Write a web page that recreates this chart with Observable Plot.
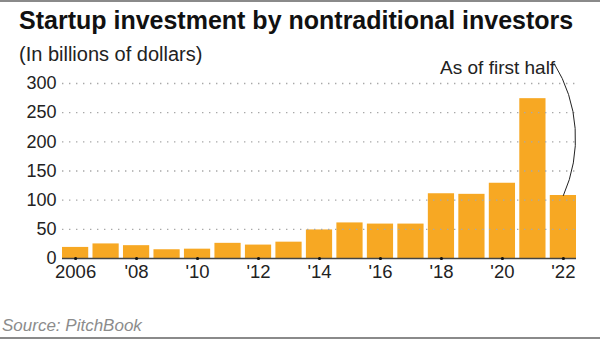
<!DOCTYPE html>
<html>
<head>
<meta charset="utf-8">
<script src="https://cdn.jsdelivr.net/npm/d3@7"></script>
<script src="https://cdn.jsdelivr.net/npm/@observablehq/plot@0.6"></script>
<style>
  html, body { margin: 0; padding: 0; background: #fff; }
  #wrap { position: relative; width: 600px; height: 339px; overflow: hidden; font-family: "Liberation Sans", Arial, sans-serif; }
  .topline { position: absolute; left: 0; top: 0; width: 600px; height: 2px; background: #8a8a8a; }
  .botline { position: absolute; left: 0; top: 337px; width: 600px; height: 2px; background: #8a8a8a; }
  #title { position: absolute; left: 19px; top: 6px; font-size: 25px; font-weight: bold; color: #111; white-space: nowrap; }
  #subtitle { position: absolute; left: 19px; top: 43px; font-size: 20px; color: #222; white-space: nowrap; }
  #chart { position: absolute; left: 0; top: 58px; }
  #source { position: absolute; left: 2px; top: 316px; font-size: 17px; font-style: italic; color: #8c8c8c; white-space: nowrap; }
</style>
</head>
<body>
<div id="wrap">
  <div class="topline"></div>
  <div id="title">Startup investment by nontraditional investors</div>
  <div id="subtitle">(In billions of dollars)</div>
  <div id="chart"></div>
  <div id="source">Source: PitchBook</div>
  <div class="botline"></div>
</div>
<script>
const years = [2006, 2007, 2008, 2009, 2010, 2011, 2012, 2013, 2014, 2015, 2016, 2017, 2018, 2019, 2020, 2021, 2022];
const values = [19, 25, 22, 15, 16, 26, 23, 28, 49, 61, 59, 59, 111, 110, 129, 274, 108];
const yTicks = [0, 50, 100, 150, 200, 250, 300];
const xTickYears = [2006, 2008, 2010, 2012, 2014, 2016, 2018, 2020, 2022];
const xTickLabels = ["2006", "'08", "'10", "'12", "'14", "'16", "'18", "'20", "'22"];
const note = "As of first half";
const noteYear = 2022;

const half = 0.43; // half bar width, in years
const data = years.map((y, i) => ({year: y, value: values[i]}));
const labelOf = new Map(xTickYears.map((y, i) => [y, xTickLabels[i]]));

const plot = Plot.plot({
  width: 600,
  height: 232,
  marginLeft: 62,
  marginRight: 24,
  marginTop: 25,
  marginBottom: 32,
  style: {fontFamily: "'Liberation Sans', Arial, sans-serif", fontSize: "18px", color: "#222", overflow: "visible"},
  x: {type: "linear", domain: [years[0] - half, years[years.length - 1] + half]},
  y: {domain: [0, 300]},
  marks: [
    Plot.rectY(data, {x1: d => d.year - half, x2: d => d.year + half, y: "value", fill: "#F7A823"}),
    Plot.ruleY(yTicks.filter(d => d > 0), {stroke: "#a8a8a8", strokeWidth: 1.3, strokeDasharray: "1.4,5.6"}),
    Plot.ruleY([0], {stroke: "#444", strokeWidth: 1.5}),
    Plot.axisY({ticks: yTicks, tickSize: 0, tickPadding: 6, label: null, fontSize: 18}),
    Plot.axisX({ticks: xTickYears, tickSize: 0, tickPadding: 6, label: null, tickFormat: d => labelOf.get(d), fontSize: 18.5}),
    Plot.dot(xTickYears, {x: d => d, y: 0, r: 1.6, fill: "#111", stroke: null}),
    Plot.text([note], {x: noteYear - 0.27, y: 326, text: d => d, textAnchor: "end", fontSize: 19, fill: "#222"}),
    Plot.arrow([{x1: noteYear - 0.3, y1: 334, x2: noteYear, y2: values[values.length - 1]}], {x1: "x1", y1: "y1", x2: "x2", y2: "y2", bend: 28, headLength: 0, stroke: "#222", strokeWidth: 1})
  ]
});
document.getElementById("chart").appendChild(plot);
</script>
</body>
</html>
